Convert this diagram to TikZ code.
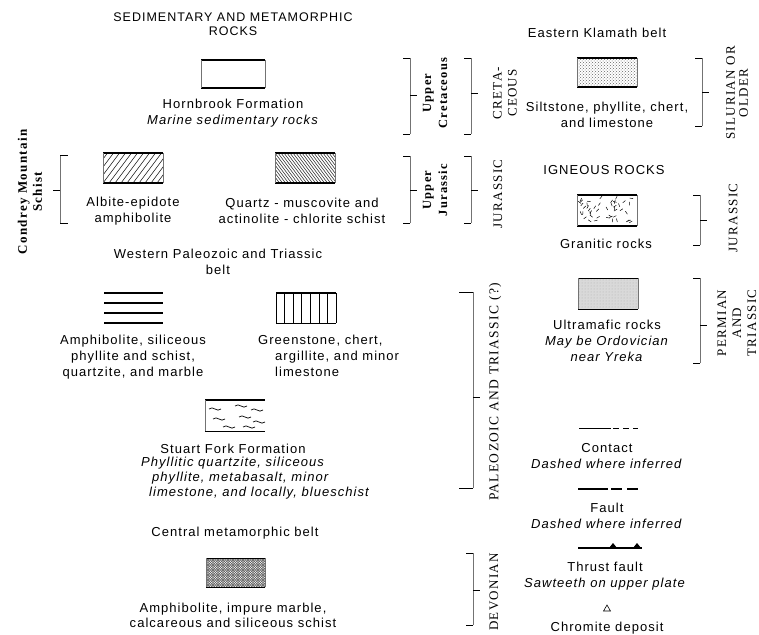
\documentclass[tikz,border=0pt]{standalone}
\usepackage{fontspec}
\setmainfont{Liberation Sans}
\newfontfamily\labf[LetterSpace=8]{Liberation Sans}
\newfontfamily\agef[LetterSpace=10]{Liberation Serif}
\usetikzlibrary{patterns}
\newcommand\agebr[6]{%
  \draw[brv] (#1,#2) -- (#1,#4);
  \draw[brt] (#1,#2) -- ++(#5,0);
  \draw[brt] (#1,#4) -- ++(#5,0);
  \draw[brt] (#1,#3) -- ++(#6,0);
}
\tikzset{
  lab/.style={font=\labf\fontsize{13}{16}\selectfont, align=center, inner sep=0pt},
  labit/.style={font=\labf\itshape\fontsize{13}{15}\selectfont, align=left, inner sep=0pt},
  agelab/.style={font=\agef\fontsize{13}{15}\selectfont, align=center, rotate=90, inner sep=0pt},
  agebold/.style={font=\agef\bfseries\fontsize{12.5}{16}\selectfont, align=center, rotate=90, inner sep=0pt},
  legbox/.style={minimum width=60pt, minimum height=30pt, inner sep=0pt, outer sep=0pt},
  edgeh/.style={line width=1.1pt},
  edgev/.style={line width=0.4pt, black!55},
  brv/.style={line width=0.5pt, black!55},
  brt/.style={line width=1pt},
  hatch/.style={line width=0.5pt},
}
\begin{document}
\begin{tikzpicture}[x=1pt,y=-1pt]
\useasboundingbox (0,0) rectangle (759,634);

% ---------------- left column ----------------
\node[lab, font=\labf\fontsize{12.5}{13.5}\selectfont] (title) at (233,24) {SEDIMENTARY AND METAMORPHIC\\ROCKS};

\node[legbox, minimum width=64pt, minimum height=28pt] (hb) at (233,74) {};
\draw[edgeh] (hb.north west) -- (hb.north east);
\draw[edgeh] (hb.south west) -- (hb.south east);
\draw[edgev] (hb.north west) -- (hb.south west);
\draw[edgev] (hb.north east) -- (hb.south east);
\node[lab] (hbl) at (233,113) {Hornbrook Formation\\\textit{Marine sedimentary rocks}};

\node[font=\agef\bfseries\fontsize{13}{15}\selectfont, align=center, rotate=90, inner sep=0pt] (cms) at (30,192) {Condrey Mountain\\Schist};
\agebr{60}{155}{190}{223}{8}{-7}

\node[legbox, path picture={
  \foreach \i in {-36,-30,...,66}
    \draw[hatch] ([xshift=\i pt]path picture bounding box.south west) -- ++(24pt,32pt);
}] (ab) at (133,168) {};
\draw[edgeh] (ab.north west) -- (ab.north east);
\draw[edgeh] (ab.south west) -- (ab.south east);
\draw[edgev] (ab.north west) -- (ab.south west);
\draw[edgev] (ab.north east) -- (ab.south east);
\node[lab] (abl) at (133,211) {Albite-epidote\\amphibolite};

\node[legbox, path picture={
  \foreach \i in {-30,-27,...,66}
    \draw[line width=0.45pt] ([xshift=\i pt]path picture bounding box.north west) -- ++(24pt,-32pt);
}] (qm) at (305,168) {};
\draw[edgeh] (qm.north west) -- (qm.north east);
\draw[edgeh] (qm.south west) -- (qm.south east);
\draw[edgev] (qm.north west) -- (qm.south west);
\draw[edgev] (qm.north east) -- (qm.south east);
\node[lab] (qml) at (302,211) {Quartz - muscovite and\\actinolite - chlorite schist};

\node[lab] (wpt) at (218,262) {Western Paleozoic and Triassic\\belt};

\node[legbox, minimum width=59pt] (am) at (133.5,308) {};
\draw[line width=1.6pt] (am.north west) -- (am.north east);
\draw[line width=1.1pt] ([yshift=-10pt]am.north west) -- ([yshift=-10pt]am.north east);
\draw[line width=1.1pt] ([yshift=10pt]am.south west) -- ([yshift=10pt]am.south east);
\draw[line width=1.6pt] (am.south west) -- (am.south east);
\node[lab] (aml) at (133,357.5) {Amphibolite, siliceous\\phyllite and schist,\\quartzite, and marble};

\node[legbox, path picture={
  \foreach \i in {1,...,6}
    \draw[line width=0.5pt] ([xshift=\i*8.57pt]path picture bounding box.south west) -- ++(0pt,30pt);
}] (gs) at (306,308) {};
\draw[edgeh] (gs.north west) -- (gs.north east);
\draw[line width=1pt] (gs.south west) -- (gs.south east);
\draw[line width=0.6pt] (gs.north west) -- (gs.south west);
\draw[line width=0.6pt] (gs.north east) -- (gs.south east);
\node[lab, align=left, anchor=north west] (gsl) at (258,335) {Greenstone, chert,\\\hspace*{17pt}argillite, and minor\\\hspace*{17pt}limestone};

\node[legbox, minimum height=31pt, path picture={
  \foreach \px/\py in {4/9, 30/6, 46/10, 8/19, 34/17, 48/22, 18/27, 38/27}
    \draw[line width=0.7pt] ([shift={(\px pt,-\py pt)}]path picture bounding box.north west)
      .. controls +(4pt,4pt) and +(-4pt,-4pt) .. +(12pt,0pt);
}] (sf) at (235,415.5) {};
\draw[edgeh] (sf.north west) -- (sf.north east);
\draw[line width=0.8pt] (sf.south west) -- (sf.south east);
\draw[edgev] (sf.north west) -- (sf.south west);
\node[lab] (sfn) at (233,449) {Stuart Fork Formation};
\node[labit, anchor=north west] (sfd) at (141,457) {Phyllitic quartzite, siliceous\\\hspace*{11pt}phyllite, metabasalt, minor\\\hspace*{8pt}limestone, and locally, blueschist};

\node[lab] (cmb) at (235,533) {Central metamorphic belt};
\node[legbox, minimum width=59pt, minimum height=29pt, path picture={
  \foreach \i in {-30,-27.5,...,62}{
    \draw[line width=0.6pt, black!65] ([xshift=\i pt]path picture bounding box.south west) -- ++(30pt,30pt);
    \draw[line width=0.6pt, black!65] ([xshift=\i pt]path picture bounding box.north west) -- ++(30pt,-30pt);
  }
}] (cm) at (235.5,572.5) {};
\draw[line width=0.8pt] (cm.north west) -- (cm.north east);
\draw[line width=0.8pt] (cm.south west) -- (cm.south east);
\draw[edgev] (cm.north west) -- (cm.south west);
\draw[edgev] (cm.north east) -- (cm.south east);
\node[lab, font=\labf\fontsize{13}{15}\selectfont] (cml) at (233,615) {Amphibolite, impure marble,\\calcareous and siliceous schist};

% ---------------- age brackets (middle) ----------------
\agebr{410}{58}{95}{134}{-7}{7}
\node[agebold] (uc) at (435,93) {Upper\\Cretaceous};
\agebr{471}{58}{93}{134}{-7}{7}
\node[agelab] (cr) at (505,93) {CRETA-\\CEOUS};

\agebr{410}{156}{190}{223}{-7}{7}
\node[agebold] (uj) at (435,190) {Upper\\Jurassic};
\agebr{471}{156}{190}{223}{-7}{7}
\node[agelab] (ju) at (498,194) {JURASSIC};

\agebr{473}{292}{397}{488}{-14}{7}
\node[agelab, font=\agef\fontsize{13.5}{15}\selectfont] (pt) at (495,392) {PALEOZOIC AND TRIASSIC (?)};

\agebr{473}{553}{590}{625}{-7}{7}
\node[agelab] (dv) at (494,592) {DEVONIAN};

% ---------------- right column ----------------
\node[lab] (ekb) at (597,33) {Eastern Klamath belt};
\node[legbox, minimum height=29pt, pattern=crosshatch dots, pattern color=black!60] (sl) at (607,72.5) {};
\draw[edgeh] (sl.north west) -- (sl.north east);
\draw[edgeh] (sl.south west) -- (sl.south east);
\draw[edgev] (sl.north west) -- (sl.south west);
\draw[edgev] (sl.north east) -- (sl.south east);
\node[lab] (sll) at (607,115) {Siltstone, phyllite, chert,\\and limestone};
\agebr{702}{58}{92}{126}{-7}{7}
\node[agelab, font=\agef\fontsize{13}{13}\selectfont] (so) at (737,93) {SILURIAN OR\\OLDER};

\node[lab] (ign) at (604,170) {IGNEOUS ROCKS};
\node[legbox, minimum height=31pt, path picture={
  \pgfmathsetseed{11}
  \foreach \i in {1,...,46}{
    \pgfmathsetmacro\xx{rnd*54+3}
    \pgfmathsetmacro\yy{rnd*25+3}
    \pgfmathsetmacro\aa{rnd*180}
    \draw[line width=0.5pt] ([shift={(\xx pt,\yy pt)}]path picture bounding box.south west) -- ++(\aa:3.5pt);
  }
}] (gr) at (607,210.5) {};
\draw[edgeh] (gr.north west) -- (gr.north east);
\draw[edgeh] (gr.south west) -- (gr.south east);
\draw[edgev] (gr.north west) -- (gr.south west);
\draw[edgev] (gr.north east) -- (gr.south east);
\node[lab] (grl) at (606,244) {Granitic rocks};
\agebr{700}{195}{220}{245}{-7}{7}
\node[agelab] (jr) at (733,218) {JURASSIC};

\node[legbox, minimum height=31pt, fill=black!15, pattern color=black!35] (um) at (608,293.5) {};
\fill[pattern=dots, pattern color=black!30] (um.north west) rectangle (um.south east);
\draw[line width=0.9pt] (um.north west) -- (um.north east);
\draw[line width=0.9pt] (um.south west) -- (um.south east);
\draw[edgev] (um.north west) -- (um.south west);
\draw[edgev] (um.north east) -- (um.south east);
\node[lab] (uml) at (607,341) {Ultramafic rocks\\\textit{May be Ordovician}\\\textit{near Yreka}};
\agebr{700}{278}{325}{363}{-7}{7}
\node[agelab] (pm) at (737,323) {PERMIAN\\AND\\TRIASSIC};

% contact
\coordinate (ca) at (579,428); \coordinate (cmid) at (611,428); \coordinate (cb) at (638,428);
\draw[line width=1pt] (ca) -- (cmid);
\draw[line width=1pt, dash pattern=on 6pt off 4pt] ([xshift=2pt]cmid) -- (cb);
\node[lab] (ctl) at (607,456.5) {Contact\\\textit{Dashed where inferred}};

% fault
\coordinate (fa) at (578,489); \coordinate (fm) at (608,489); \coordinate (fb) at (638,489);
\draw[line width=1.7pt] (fa) -- (fm);
\draw[line width=1.7pt, dash pattern=on 11pt off 5pt] ([xshift=3pt]fm) -- (fb);
\node[lab] (ftl) at (607,515.5) {Fault\\\textit{Dashed where inferred}};

% thrust fault
\coordinate (ta) at (578,548); \coordinate (tb) at (642,548);
\coordinate (t1) at (613,548); \coordinate (t2) at (637,548);
\draw[line width=1.5pt] (ta) -- (tb);
\fill ([xshift=-4pt]t1) -- ([yshift=5pt]t1) -- ([xshift=4pt]t1) -- cycle;
\fill ([xshift=-4pt]t2) -- ([yshift=5pt]t2) -- ([xshift=4pt]t2) -- cycle;
\node[lab] (thl) at (605,576) {Thrust fault\\\textit{Sawteeth on upper plate}};

% chromite
\coordinate (ch) at (607,608);
\draw[line width=0.6pt] ([shift={(-3.5pt,-3pt)}]ch) -- ([shift={(0pt,3pt)}]ch) -- ([shift={(3.5pt,-3pt)}]ch) -- cycle;
\node[lab] (chl) at (607,628) {Chromite deposit};
\end{tikzpicture}
\end{document}
